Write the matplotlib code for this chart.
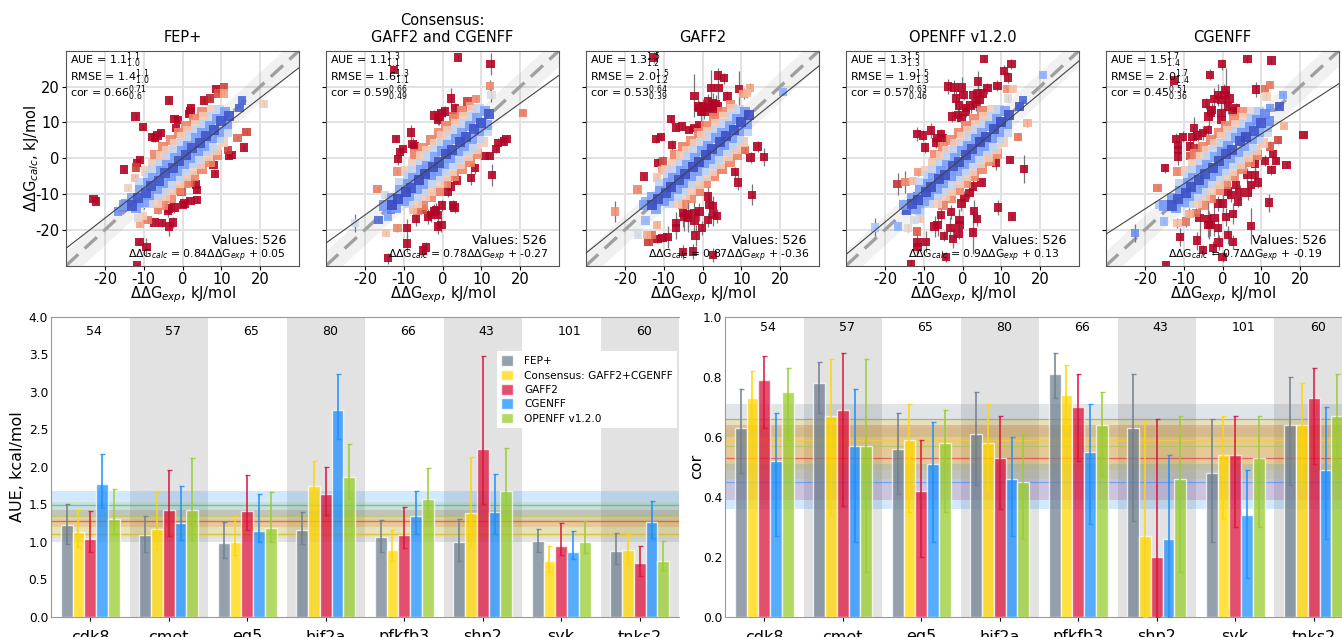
import numpy as np
import matplotlib
matplotlib.use('Agg')
import matplotlib.pyplot as plt
from matplotlib import font_manager as fm
from matplotlib.colors import Normalize

plt.rcParams['axes.unicode_minus'] = False

titles = ['FEP+', 'Consensus:\nGAFF2 and CGENFF', 'GAFF2', 'OPENFF v1.2.0', 'CGENFF']
stat_aue = [('1.1', '1.1', '1.0'), ('1.1', '1.3', '1.1'), ('1.3', '1.5', '1.2'), ('1.3', '1.5', '1.3'), ('1.5', '1.7', '1.4')]
stat_rmse = [('1.4', '1.1', '1.0'), ('1.6', '1.3', '1.1'), ('2.0', '1.5', '1.2'), ('1.9', '1.5', '1.3'), ('2.0', '1.7', '1.4')]
stat_cor = [('0.66', '0.71', '0.6'), ('0.59', '0.66', '0.49'), ('0.53', '0.64', '0.39'), ('0.57', '0.63', '0.46'), ('0.45', '0.51', '0.36')]
fit_slope = [0.84, 0.78, 0.87, 0.9, 0.7]
fit_icpt = [0.05, -0.27, -0.36, 0.13, -0.19]
n_values = 526

core_exp = [
    -13, -11.5, -9.5, -8, -6, -4.5, -2.5, -1, 1, 2.5, 4.5, 6, 8, 10, 12,
    -15, -13, -11, -9, -7.5, -5.5, -4, -2, 0, 1.5, 3.5, 5, 7, 9, 11,
    -12, -10, -8.5, -6.5, -5, -3, -1.5, .5, 2, 4, 5.5, 7.5, 9.5, 11.5,
    -11, -9, -7.5, -5.5, -3.5, -2, 0, 2, 3.5, 5.5, 7.5, 9.5,
    -8.5, -6.5, -5, -3, -1, .5, 2.5, 4, 6, 7.5, 9.5, 11.5,
    -9.5, -7.5, -5.5, -4, -2, 0, 1.5, 3.5, 5.5, 7.5,
    -6.5, -4.5, -3, -1, 1, 2.5, 4.5, 6.5, 8.5, 10.5,
    -7, -5, -3, -1, 1, 3, 5,
    -5, -3, -1, 1, 3, 5, 7, 9]

fep_calc = [
    -13.2, -11.2, -9.8, -7.8, -6.3, -4.2, -2.7, -.8, .8, 2.8, 4.3, 6.2, 7.8, 10.3, 11.8,
    -13.1, -11, -9, -7, -5.4, -3.6, -2, .1, 2, 3.4, 5.6, 7, 9, 11, 13,
    -14, -12.1, -10.4, -8.6, -7, -4.9, -3.6, -1.5, 0, 2.1, 3.4, 5.6, 7.4, 9.6,
    -7, -5, -3.4, -1.6, .6, 2, 4, 6, 7.6, 9.4, 11.6, 13.5,
    -12.6, -10.4, -9, -7.1, -4.9, -3.6, -1.4, 0, 2.1, 3.4, 5.6, 7.4,
    -3.6, -1.5, .6, 2, 4, 6, 7.6, 9.4, 11.6, 13.5,
    -12.4, -10.6, -9, -7, -5.1, -3.4, -1.6, .6, 2.4, 4.6,
    1, 3, 5, 7, 9, 11, 13,
    -13, -11, -9, -7, -5, -3, -1, 1]
cons_calc = [
    -13, -11.5, -9.5, -8.2, -6, -4.5, -2.4, -1.2, 1.1, 2.4, 4.6, 5.8, 8.2, 9.8, 12.2,
    -13.2, -11.1, -8.9, -7.1, -5.5, -3.4, -2.1, .2, 1.9, 3.6, 5.4, 7.1, 8.9, 11.1, 13.2,
    -13.9, -12, -10.5, -8.5, -7.1, -4.8, -3.5, -1.6, .1, 2, 3.5, 5.4, 7.5, 9.4,
    -6.9, -5.1, -3.5, -1.5, .5, 2.1, 3.9, 6.1, 7.5, 9.5, 11.4, 13.6,
    -12.5, -10.5, -9.1, -7, -5, -3.5, -1.5, .1, 2, 3.5, 5.5, 7.5,
    -3.5, -1.6, .5, 2.1, 3.9, 6.1, 7.5, 9.5, 11.5, 13.4,
    -12.5, -10.5, -9.1, -6.9, -5, -3.5, -1.5, .5, 2.5, 4.5,
    1.1, 2.9, 5.1, 6.9, 9.1, 10.9, 13.1,
    -13.1, -10.9, -9.1, -6.9, -5.1, -2.9, -1.1, 1.1]
gaff_calc = [
    -13.1, -11.4, -9.7, -8, -6.2, -4.4, -2.5, -1, 1, 2.6, 4.4, 6.1, 7.9, 10.1, 12,
    -13, -10.9, -9.1, -6.9, -5.6, -3.5, -1.9, 0, 2.1, 3.5, 5.5, 7.1, 9.1, 10.9, 12.9,
    -14.1, -11.9, -10.5, -8.5, -6.9, -5, -3.5, -1.4, -.1, 2, 3.6, 5.5, 7.5, 9.5,
    -7.1, -5, -3.5, -1.5, .4, 2, 4.1, 6, 7.5, 9.6, 11.5, 13.5,
    -12.4, -10.5, -9, -7, -5.1, -3.4, -1.5, .1, 1.9, 3.6, 5.4, 7.6,
    -3.4, -1.5, .5, 2.1, 4, 6.1, 7.4, 9.6, 11.4, 13.6,
    -12.6, -10.4, -9, -7.1, -4.9, -3.5, -1.5, .5, 2.5, 4.4,
    1, 3.1, 4.9, 7.1, 8.9, 11.1, 12.9,
    -12.9, -11, -9.1, -7, -5, -3.1, -1, 1]
open_calc = [
    -12.8, -11.6, -9.4, -8.1, -5.9, -4.6, -2.3, -1.1, .9, 2.7, 4.5, 5.9, 8.1, 10, 12.1,
    -13, -11.1, -9, -7.1, -5.4, -3.6, -1.9, .1, 2, 3.5, 5.4, 7.1, 9, 11, 13.1,
    -14.1, -12, -10.4, -8.6, -7, -4.9, -3.6, -1.5, .1, 1.9, 3.5, 5.6, 7.4, 9.6,
    -7, -5.1, -3.4, -1.6, .5, 1.9, 4.1, 5.9, 7.6, 9.5, 11.6, 13.4,
    -12.6, -10.4, -9.1, -7.1, -5, -3.4, -1.6, 0, 2.1, 3.5, 5.6, 7.4,
    -3.6, -1.4, .6, 1.9, 4.1, 5.9, 7.6, 9.4, 11.6, 13.4,
    -12.4, -10.6, -9.1, -7, -4.9, -3.6, -1.4, .4, 2.6, 4.5,
    .9, 3, 5, 7, 9.1, 11, 13.1,
    -13.1, -11, -9, -6.9, -5, -3, -.9, 1.1]
cgen_calc = [
    -13.2, -11.3, -9.6, -7.9, -6.1, -4.3, -2.6, -.9, 1.2, 2.3, 4.7, 6, 7.7, 9.7, 10.5,
    -13.2, -11, -9.1, -7, -5.5, -3.4, -2, .2, 1.8, 3.4, 5.6, 6.9, 8.8, 10.7, 12.4,
    -14, -12.2, -10.6, -8.5, -7, -5, -3.5, -1.5, 0, 1.8, 3.4, 5.3, 7.2, 8.6,
    -7.2, -5, -3.6, -1.5, .4, 2.1, 3.9, 5.9, 7.4, 9.4, 11, 13,
    -12.5, -10.6, -9, -7, -5.1, -3.4, -1.6, -.1, 2, 3.4, 5.4, 7.2,
    -3.5, -1.5, .4, 2, 4.1, 6, 7.5, 9.3, 11.3, 13,
    -12.5, -10.6, -8.9, -7.1, -5, -3.5, -1.6, .4, 2.4, 4.3,
    1.1, 3, 5.1, 7, 9, 10.9, 12.8,
    -13, -11.1, -9, -7.1, -5, -3, -1.1, .9]

fep_out = [(-3.5,16.1,.8),(-12.1,11.6,.6),(-10.2,8.7,.8),(-7.7,6,1.5),(-7.1,5.6,1.2),(-5.5,7,1.2),(-6.4,6.3,1),
    (-2.1,11,1),(-1.2,10.7,.8),(-1.6,8.4,1),(2.2,14.1,1),(2.1,13.2,1),(1.6,12.3,.8),(5.5,16.1,.8),(7,16.7,.6),
    (8.7,19.3,.6),(10.7,19.9,.6),(9.1,18.1,.6),(10.7,18.1,.6),(16.5,7.3,.6),(15.8,3,.6),(11.7,2.3,.8),(11.9,.7,.8),
    (12.6,.9,.8),(14.2,5.6,.6),(8,-1.9,1),(8.4,-4.4,.8),(3.8,-8.8,1),(3.5,-7.3,1),(3.7,-11.6,.8),(2.1,-11.9,.8),
    (.5,-12.6,1),(.1,-13,1),(-.3,-9.3,1),(-3.4,-14,1.5),(-2.1,-13.8,1.5),(-3.8,-14.8,1.5),(-5.3,-18.1,1),
    (-3.5,-19.1,2.5),(-2.5,-17.9,1.5),(-11.1,-23.4,.8),(-9.3,-24.7,2.5),(-11.8,-29.8,.6),(-22.9,-11.3,.6),
    (-22.2,-12.1,.6),(-15,-3.2,.6),(-10.9,-.5,.8),(-11.7,-1.4,.8),(-11.9,-2.6,.8),(-12.2,-5.6,.8),(-14.1,-8.4,.6),
    (-11.4,-16.7,.8),(-10.3,-16.2,.8),(-9,-17.2,.8),(-11,-18.2,1),(-7.2,-17.9,.8),(-6.3,-14.5,1),(1.6,-7,.8),
    (2.2,-7,.8),(20.9,15.1,.5),(15.4,16.1,.5),(14.7,14.1,.5),(-16.6,-14.9,.5),(-14.7,-12.6,.5),(-13.3,-12.4,.5),
    (-15.3,-13.9,.5),(-10.7,-12.4,.8),(-10,-12.8,1.5)]
cons_out = [(4,28.1,.6),(12.4,26.3,3),(-12.5,24.7,1),(12.3,20.2,1.5),(12.6,17.7,2),(2.2,16.7,3),(6.4,15.8,1),
    (8.7,16.6,.8),(7,14.4,.8),(3.3,14,1.5),(.7,13,1.5),(-2.1,11.9,1.5),(-.8,11.4,2),(-1.2,10.7,1.5),(-.3,12.6,1.5),
    (2.7,11.6,1.5),(-8.1,7.2,2),(-12,5.3,.8),(-7.7,4,1.5),(-7.2,3.4,1.5),(-10.1,2.5,1),(-10.9,1.7,1.5),(-11.4,-.3,1.5),
    (-11.6,-3.7,.8),(-16.7,-8.6,.6),(-22.6,-18,2.5),(-14.6,-20.9,.6),(-16.5,-17.2,.5),(-14.1,-16.3,.8),(-13.3,-14.4,.8),
    (-14.8,-10.2,1),(12.8,-4.7,3),(20.8,12.6,.5),(16.5,5.4,1),(15.8,4.7,1),(14.3,4.2,1.5),(13.7,2.5,1),(10.9,.7,.8),
    (12.2,.7,.8),(8.4,-2.8,1.5),(7.4,-5.6,2),(3.7,-6.2,1),(2.2,-7.9,1.5),(1.5,-9.3,1.5),(-.2,-13.2,1.5),(2.7,-13.2,1.5),
    (3.1,-13.8,1.5),(-2.1,-14.9,2),(-2.9,-15.8,2),(-3.8,-16.3,2),(-1.6,-14.4,2),(-1.2,-15.8,2),(-6.8,-16.9,2),
    (-1.2,-19.1,2),(-.3,-18.6,2),(-11.6,-19.5,1),(-9.2,-19.5,2.5),(-9.2,-23.8,2.5),(-4.2,-24.9,1.5),(-5.1,-25.8,1.5),
    (-14.1,-27.9,1.5),(-7.6,-14.3,1),(-5.1,-14.3,1),(-6.4,-14.7,1)]
gaff_out = [(-12.5,28.1,1.5),(4,23.1,2),(5.5,22.3,1.5),(2.2,19.5,5),(4.1,19.5,3),(9.4,19.3,5),(12.2,19.5,1.5),(10.6,18,1.5),
    (11.5,18.2,1.5),(-2.1,17.4,6),(6.4,17.2,1.5),(-.8,14,2),(.1,14.4,2),(1.4,15.8,2),(2.7,15.3,3),(-.3,13,2.5),(1.8,14,2),
    (3.5,15,2.5),(.5,13,2),(-1.2,14.4,2),(2.7,13,2),(4,14.4,2),(7.2,15.1,1.5),(-8.1,10.9,1),(-6.8,8.6,1),(-5.3,8.8,1),
    (-3.5,7.9,1),(-2.1,8.4,1),(-.8,9.1,1),(-12,5.3,1),(-10.7,5.9,1),(-7.8,3.6,1.5),(-11.4,-1.4,1.5),(-10.1,-.9,1.5),
    (-10.5,-3.3,1),(-15,-5.1,.8),(-11.7,-5.4,1),(-16.7,-8.7,.8),(-14.7,-12.1,.5),(-22.6,-14.9,3),(-14.7,-17.4,.5),
    (-16.6,-21.4,.6),(-14.3,-21.4,1),(-13,-21.4,1),(-13.9,-23.3,1),(-11.7,-18.6,1),(-11.6,-22.6,1),(-10.3,-22.3,1),
    (-9,-22,3),(-6.8,-18.1,3),(-6.8,-19.5,3),(-5.1,-15.3,4),(-3.8,-15.5,4),(-2.1,-15.3,3),(-.8,-14.9,2.5),(-4.7,-16.3,4),
    (-2.1,-17.5,3),(-3.8,-16.7,4),(-.2,-19.5,2),(-1.8,-21.6,3),(1.4,-17.2,2),(2.7,-15.8,3),(3.7,-16.1,2),(1.8,-13,3),
    (2.7,-13.5,3),(1.4,-10.7,3),(12.8,-10.2,3),(9.1,-6.8,2),(8.4,-3.9,1.5),(12.4,.2,1.5),(15.8,.4,2.5),(14.2,3.3,1.5),
    (10.9,2.3,1),(20.8,18.4,.5),(-5.1,-26.2,2),(-2.5,-26,2),(2.7,-27,2)]
open_out = [(5.5,27.6,.8),(12.6,26.3,1.5),(10.7,24.4,1.5),(11.7,22.5,1.5),(4,21.4,3),(9,20.2,1.5),(6.4,19.5,1.5),(-3.8,20,2),
    (-2.1,19.7,2),(-.2,19.7,3),(-1.6,16.7,3),(.3,17.7,1.5),(2.7,17.7,1.5),(4,18.1,2),(5.3,18.1,1.5),(-.9,14.7,3),(.9,14,2),
    (2.1,14.7,2),(3.5,15.3,2),(4.4,16.3,2),(-2.7,11.6,1.5),(-1.2,12.1,2),(-.3,11.2,1.5),(.9,13,1.5),(-8.1,7.7,2),(-11.8,6.7,2),
    (-10.2,6.3,1.5),(-6.4,5.6,2),(-5.1,5.6,1.5),(-5.5,6.7,1.5),(-6.8,4.4,1.5),(-9.6,3,1.5),(12.3,-.5,.8),(15.8,-3,4),
    (8.7,-1.2,2),(4.9,-6.8,1),(-16.7,-7.2,3),(-14.7,-6.7,3),(-12.8,-6.3,1),(-11.4,-3.9,1),(16.7,9.8,1),(14.3,6,1),
    (20.8,23.3,.5),(15.6,16.3,.5),(14.7,14.4,.5),(11.7,16.7,1),(13,19.3,.8),(11.5,19.3,.8),(-22.6,-19.3,2.5),(-16.6,-19.1,.5),
    (-14.1,-19.5,1),(-11.7,-20.5,1),(-14.4,-14.7,.5),(-11.6,-10.7,.5),(-10.3,-12.6,1),(-11.1,-14.7,1),(-12.4,-17.2,.8),
    (-10.9,-17,.8),(-11.6,-23.5,3),(-11.6,-24.7,2),(-13.3,-29.5,1),(-9.4,-23.3,3),(-4.8,-21.7,1.5),(-2.5,-22.6,2.5),
    (-1,-21,1.5),(-4.2,-27.6,1.5),(2.7,-20.7,6),(-.8,-17.2,3),(-.8,-18.6,3),(-3.1,-19.5,3),(-6.4,-18.6,3),(-5.5,-15.8,2),
    (-7.2,-19.1,3),(-2.9,-15.1,2),(2.9,-14.7,3),(3.7,-17,2),(9.1,-13.8,2),(12.8,-16.3,1),(-.3,-12.6,2),(.5,-11.2,2),
    (1.8,-9.8,1.5),(2.7,-7.9,2)]
cgen_out = [(6.4,27.6,1),(12.6,27.3,1),(-.2,26.2,1.5),(-3.3,23.3,1.5),(-12.5,21.7,1),(8.7,19.2,2),(.8,19.1,6),(-1.2,17.7,3),
    (.5,17.7,3),(-2.1,16.6,3),(-.3,16.3,2.5),(1.8,16.7,2),(-4.3,15.3,1.5),(-2.8,13.5,2),(-3.6,11.6,2.5),(-2.9,12.6,2),
    (-.3,12.6,1.5),(-.3,10.7,2),(1.4,14.4,2),(2.7,13,1.5),(3.5,14,1.5),(-7.4,8.4,3),(-12,5.4,1.5),(-10.1,6,1.5),(-11.4,3.7,1.5),
    (-11.4,2.3,2),(-11.4,.5,2.5),(-7.7,6,2),(-6.4,6.3,1.5),(-5.1,7,2),(-3.8,7.9,1.5),(-8.3,3.3,2),(-6.8,2.8,1.5),(-14.8,-2.8,1.2),
    (-8.4,.7,1),(-11.7,-3.7,1),(-16.7,-8.4,.6),(20.9,6.5,.5),(15.8,8.9,.6),(15.6,17.7,.6),(14.7,14.4,.6),(12.3,14.1,.6),
    (12.3,20.5,1),(10.9,19.3,1),(11.3,17.2,1),(16.5,-1.9,.8),(13.7,-.7,1),(13,1.1,1),(11,-.7,1.5),(12.6,-3.3,1.5),(8.4,-1.6,2),
    (14.3,5.1,1),(12.2,3.3,1.5),(9.1,-6.8,1.5),(7.4,-7.4,3),(6.4,-4.7,2),(8.3,-4.7,2),(6.6,-9.6,2),(4.4,-9.6,2),(4,-12.1,1.5),
    (1.4,-9.3,2),(.1,-12.6,2.5),(-1.2,-12.6,2),(2.2,-10.2,2),(3.5,-7.4,3),(11.9,-12.4,2.5),(7.4,-18.9,5),(2.7,-15.5,3),
    (.9,-16.5,2.5),(-5.9,-16.7,5),(-3.8,-16.9,5),(-2.1,-16.7,5),(-3.6,-18.6,4),(-1.2,-19.5,3),(-3.1,-18.6,3),(1.4,-21.4,2.5),
    (2.7,-23.3,2),(-10.9,-21.9,2.5),(-6.6,-23,2.5),(-5.1,-25.6,1.5),(-2.5,-25.1,2),(-1,-23.5,2),(0,-27.6,1.5),(-14.6,-29.8,1),
    (-22.5,-20.9,2.5),(-15,-17.7,.6),(-16.3,-13,.6),(-13.3,-11.6,.6),(-11.1,-12.1,.8),(-11.6,-18.1,1.5),(-9.4,-17.7,1.5),
    (-8.5,-15.5,1.5),(-6.8,-15.3,1.5)]

targets = ['cdk8', 'cmet', 'eg5', 'hif2a', 'pfkfb3', 'shp2', 'syk', 'tnks2']
target_n = [54, 57, 65, 80, 66, 43, 101, 60]
methods = ['FEP+', 'Consensus: GAFF2+CGENFF', 'GAFF2', 'CGENFF', 'OPENFF v1.2.0']
colors = ['slategray', 'gold', 'crimson', 'dodgerblue', 'yellowgreen']

aue_val = [[1.22,1.09,.99,1.16,1.07,1.0,1.01,.88],[1.13,1.17,1.0,1.74,.89,1.38,.74,.89],
           [1.04,1.42,1.41,1.64,1.09,2.23,.95,.72],[1.77,1.25,1.14,2.75,1.35,1.4,.87,1.26],
           [1.31,1.43,1.18,1.87,1.57,1.68,1.0,.75]]
aue_hi = [[1.5,1.35,1.27,1.4,1.29,1.31,1.17,1.12],[1.42,1.66,1.35,2.08,1.16,2.13,.95,1.1],
          [1.41,1.96,1.89,2.0,1.46,3.48,1.25,.94],[2.17,1.74,1.64,3.23,1.68,1.91,1.14,1.55],
          [1.71,2.12,1.66,2.3,1.99,2.25,1.28,1.01]]
aue_lo = [[.97,.87,.78,.97,.87,.75,.87,.7],[.93,.9,.83,1.42,.75,.95,.6,.7],
          [.87,1.08,1.16,1.36,.92,1.5,.83,.55],[1.45,1.02,1.0,2.37,1.1,1.1,.77,1.05],
          [1.1,1.03,1.0,1.58,1.33,1.3,.85,.62]]
cor_val = [[.63,.78,.56,.61,.81,.63,.48,.64],[.73,.67,.59,.58,.74,.27,.54,.64],
           [.79,.69,.42,.53,.70,.2,.54,.73],[.52,.57,.51,.46,.55,.26,.34,.49],
           [.75,.57,.58,.45,.64,.46,.53,.67]]
cor_hi = [[.76,.85,.68,.75,.88,.81,.66,.80],[.82,.86,.71,.71,.84,.65,.67,.78],
          [.87,.88,.59,.67,.81,.66,.67,.83],[.68,.76,.65,.6,.71,.54,.49,.70],
          [.83,.86,.69,.61,.75,.67,.67,.81]]
cor_lo = [[.48,.68,.41,.44,.73,.32,.25,.44],[.63,.34,.35,.42,.62,0,.33,.44],
          [.63,.37,.2,.36,.52,0,.3,.51],[.27,.25,.25,.27,.31,0,.13,.26],
          [.59,.15,.35,.26,.47,.15,.3,.46]]
aue_line = [1.1, 1.1, 1.28, 1.49, 1.34]
aue_band = [(1.0, 1.2), (1.05, 1.3), (1.2, 1.42), (1.35, 1.68), (1.2, 1.53)]
cor_line = [.66, .59, .53, .45, .57]
cor_band = [(.6, .71), (.49, .66), (.39, .64), (.36, .51), (.46, .63)]

W, H = 1342, 637
fig = plt.figure(figsize=(W / 100, H / 100), dpi=100)

def axpx(x0, y0, x1, y1):
    return fig.add_axes([x0 / W, 1 - y1 / H, (x1 - x0) / W, (y1 - y0) / H])

cnorm = Normalize(0, 10)
calcs = [fep_calc, cons_calc, gaff_calc, open_calc, cgen_calc]
outs = [fep_out, cons_out, gaff_out, open_out, cgen_out]
exp_lab = r'$\Delta\Delta\mathrm{G}_{exp}$, kJ/mol'
calc_lab = r'$\Delta\Delta\mathrm{G}_{calc}$, kJ/mol'
for i, x0 in enumerate([66, 326, 586, 846, 1106]):
    ax = axpx(x0, 50.7, x0 + 233, 265.7)
    ox, oy, oe = map(np.array, zip(*outs[i]))
    cx, cy = np.array(core_exp, float), np.array(calcs[i], float)
    lim = np.array([-30, 30])
    ax.grid(True, color='#e2e2e2', lw=1.4, zorder=0)
    ax.set_axisbelow(True)
    ax.fill_between(lim, lim - 4.184, lim + 4.184, color='gray', alpha=.11, lw=0, zorder=1)
    ax.plot(lim, lim, color='#a0a0a0', lw=2.4, ls=(0, (5, 2.6)), zorder=2)
    ax.errorbar(ox, oy, yerr=oe, fmt='none', ecolor='#777777', elinewidth=.9, zorder=3)
    order = np.argsort(-np.abs(ox - oy))
    ax.scatter(ox[order], oy[order], c=np.abs(ox - oy)[order], cmap='coolwarm', norm=cnorm,
               marker='s', s=36, alpha=.9, linewidths=0, zorder=4)
    order = np.argsort(-np.abs(cx - cy))
    ax.scatter(cx[order], cy[order], c=np.abs(cx - cy)[order], cmap='coolwarm', norm=cnorm,
               marker='s', s=52, alpha=.9, linewidths=0, zorder=4.5)
    ax.plot(lim, fit_slope[i] * lim + fit_icpt[i], color='#444444', lw=.8, zorder=6)
    ax.set_xlim(-30, 30)
    ax.set_ylim(-30, 30)
    ax.set_xticks([-20, -10, 0, 10, 20])
    ax.set_yticks([-20, -10, 0, 10, 20])
    ax.tick_params(labelsize=10.5, length=3, width=.8, pad=1.5, labelleft=(i == 0))
    ax.set_xlabel(exp_lab, fontsize=10.5, labelpad=-1.5)
    if i == 0:
        ax.set_ylabel(calc_lab, fontsize=10.5, labelpad=-4)
    ax.set_title(titles[i], fontsize=10.5, pad=6.5, linespacing=1.1)
    for s in ax.spines.values():
        s.set_color('#555555')
    a, r, c = stat_aue[i], stat_rmse[i], stat_cor[i]
    for yy, name, t in [(.94, 'AUE', a), (.862, 'RMSE', r), (.785, 'cor', c)]:
        ax.text(.017, yy, f'{name} = ${t[0]}^{{{t[1]}}}_{{{t[2]}}}$', transform=ax.transAxes,
                fontsize=8, va='baseline', zorder=10)
    ax.text(.628, .1, f'Values: {n_values}', transform=ax.transAxes, fontsize=9.2, va='baseline', zorder=10)
    ax.text(.266, .036, r'$\Delta\Delta\mathrm{G}_{calc}$ = ' + f'{fit_slope[i]}' + r'$\Delta\Delta\mathrm{G}_{exp}$ + ' + f'{fit_icpt[i]}',
            transform=ax.transAxes, fontsize=7.8, va='baseline', zorder=10)

narrow = 'Liberation Sans Narrow' if any(f.name == 'Liberation Sans Narrow' for f in fm.fontManager.ttflist) else 'DejaVu Sans'
is_narrow = narrow != 'DejaVu Sans'

def bars(ax, vals, his, los, lines, bnds, ymax, ylab, ny, ticks, lpad):
    for k in range(1, 8, 2):
        ax.axvspan(k - .5, k + .5, color='#e2e2e2', lw=0, zorder=0)
    for m in range(5):
        ax.axhspan(*bnds[m], color=colors[m], alpha=.2, lw=0, zorder=1)
        ax.axhline(lines[m], color=colors[m], alpha=.55, lw=.9, zorder=1.5)
    x = np.arange(8)
    for m in range(5):
        v, h, l = np.array(vals[m]), np.array(his[m]), np.array(los[m])
        pos = x + (m - 2) * .15
        ax.bar(pos, v, width=.15, color=colors[m], alpha=.75, edgecolor='white', linewidth=1, label=methods[m], zorder=2)
        ax.errorbar(pos, v, yerr=[v - l, h - v], fmt='none', ecolor=colors[m], elinewidth=1.3, capsize=1.8,
                    capthick=1, alpha=.85, zorder=3)
    ax.set_xlim(-.5, 7.5)
    ax.set_ylim(0, ymax)
    ax.set_yticks(ticks)
    ax.set_xticks(x)
    ax.set_xticklabels(targets, family=narrow, fontsize=14 if is_narrow else 11.5)
    ax.tick_params(axis='y', length=0, pad=2)
    ax.tick_params(axis='x', length=3, pad=6)
    for lab in ax.get_yticklabels():
        lab.set_family(narrow)
        lab.set_fontsize(11 if is_narrow else 8.8)
    ax.set_ylabel(ylab, fontsize=11.5, labelpad=lpad)
    for k, n in enumerate(target_n):
        ax.text(k - .05, ny, str(n), fontsize=11 if is_narrow else 9, family=narrow, va='center', ha='left', zorder=5)
    for s in ax.spines.values():
        s.set_color('#999999')
    ax.spines['right'].set_visible(False)

ax1 = axpx(51, 316.5, 679, 617)
bars(ax1, aue_val, aue_hi, aue_lo, aue_line, aue_band, 4.0, 'AUE, kcal/mol', 3.8, np.arange(0, 4.01, .5), 3)
ax1.legend(loc='upper right', bbox_to_anchor=(.997, .885), frameon=True, facecolor='white', edgecolor='none', framealpha=1,
           prop={'family': narrow, 'size': 10 if is_narrow else 7.6},
           handlelength=1.1, handleheight=1.2, labelspacing=.32, borderpad=.4, handletextpad=1.1, borderaxespad=0, fancybox=False)
ax2 = axpx(725, 316.5, 1353, 617)
bars(ax2, cor_val, cor_hi, cor_lo, cor_line, cor_band, 1.0, 'cor', .963, np.arange(0, 1.01, .2), -1)

fig.savefig('out.png', dpi=100)
